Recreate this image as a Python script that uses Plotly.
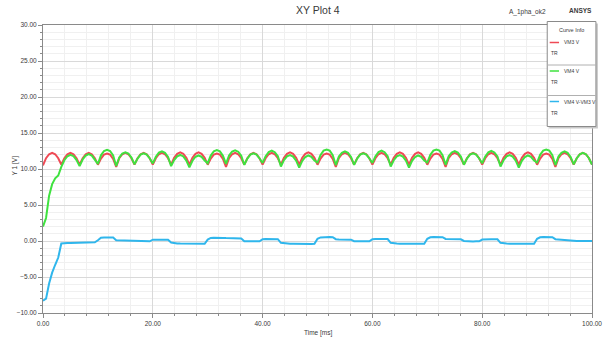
import plotly.graph_objects as go

# sample grid: 180 steps over 0..100 ms (6 samples per 3.333 ms ripple cycle)
t_start = 0.0
t_step = 100.0 / 180

# VM3 V (red)
vm3 = [
    10.5, 11.5, 12.05, 12.25, 12.05, 11.5,
    10.6, 11.5, 12.05, 12.25, 12.05, 11.5,
    10.6, 11.5, 12.05, 12.25, 12.05, 11.5,
    10.6, 11.45, 12.0, 12.15, 12.0, 11.4,
    10.3, 11.5, 12.05, 12.25, 12.05, 11.5,
    10.6, 11.5, 12.05, 12.25, 12.05, 11.5,
    10.6, 11.5, 12.05, 12.25, 12.05, 11.5,
    10.6, 11.55, 12.1, 12.3, 12.1, 11.55,
    10.6, 11.55, 12.1, 12.3, 12.1, 11.55,
    10.6, 11.45, 12.0, 12.15, 12.0, 11.4,
    10.3, 11.5, 12.05, 12.25, 12.05, 11.5,
    10.6, 11.5, 12.05, 12.25, 12.05, 11.5,
    10.6, 11.5, 12.05, 12.25, 12.05, 11.5,
    10.6, 11.55, 12.1, 12.3, 12.1, 11.55,
    10.6, 11.55, 12.1, 12.3, 12.1, 11.55,
    10.6, 11.45, 12.0, 12.15, 12.0, 11.4,
    10.3, 11.5, 12.05, 12.25, 12.05, 11.5,
    10.6, 11.5, 12.05, 12.25, 12.05, 11.5,
    10.6, 11.5, 12.05, 12.25, 12.05, 11.5,
    10.6, 11.55, 12.1, 12.3, 12.1, 11.55,
    10.6, 11.55, 12.1, 12.3, 12.1, 11.55,
    10.6, 11.45, 12.0, 12.15, 12.0, 11.4,
    10.3, 11.5, 12.05, 12.25, 12.05, 11.5,
    10.6, 11.5, 12.05, 12.25, 12.05, 11.5,
    10.6, 11.5, 12.05, 12.25, 12.05, 11.5,
    10.6, 11.55, 12.1, 12.3, 12.1, 11.55,
    10.6, 11.55, 12.1, 12.3, 12.1, 11.55,
    10.6, 11.45, 12.0, 12.15, 12.0, 11.4,
    10.3, 11.5, 12.05, 12.25, 12.05, 11.5,
    10.6, 11.5, 12.05, 12.25, 12.05, 11.5,
    10.6,
]

# VM4 V (green)
vm4 = [
    2.0, 3.2, 6.3, 7.9, 8.7, 9.1,
    10.3, 11.22, 11.77, 11.98, 11.78, 11.24,
    10.4, 11.32, 11.87, 12.08, 11.87, 11.33,
    10.7, 11.9, 12.5, 12.67, 12.5, 11.88,
    10.42, 11.6, 12.15, 12.33, 12.15, 11.58,
    10.65, 11.45, 12.0, 12.19, 12.0, 11.46,
    10.78, 11.7, 12.27, 12.45, 12.24, 11.68,
    10.4, 11.25, 11.77, 11.95, 11.74, 11.17,
    10.22, 11.15, 11.7, 11.88, 11.7, 11.17,
    10.8, 11.87, 12.45, 12.62, 12.45, 11.83,
    10.7, 11.88, 12.41, 12.6, 12.4, 11.84,
    10.58, 11.45, 11.99, 12.19, 12.0, 11.46,
    10.85, 11.78, 12.35, 12.55, 12.33, 11.76,
    10.35, 11.23, 11.75, 11.93, 11.72, 11.15,
    10.18, 11.12, 11.67, 11.88, 11.7, 11.17,
    10.9, 11.95, 12.55, 12.71, 12.55, 11.93,
    10.55, 11.72, 12.25, 12.45, 12.24, 11.68,
    10.58, 11.45, 11.99, 12.19, 12.0, 11.46,
    10.85, 11.78, 12.35, 12.55, 12.33, 11.77,
    10.35, 11.22, 11.75, 11.93, 11.72, 11.15,
    10.18, 11.13, 11.67, 11.88, 11.7, 11.17,
    10.9, 11.97, 12.55, 12.71, 12.55, 11.93,
    10.58, 11.76, 12.3, 12.49, 12.29, 11.73,
    10.6, 11.45, 11.99, 12.19, 12.0, 11.46,
    10.8, 11.75, 12.31, 12.51, 12.3, 11.74,
    10.35, 11.22, 11.75, 11.93, 11.72, 11.15,
    10.18, 11.13, 11.67, 11.88, 11.7, 11.17,
    10.9, 11.97, 12.55, 12.71, 12.55, 11.93,
    10.55, 11.72, 12.25, 12.45, 12.24, 11.68,
    10.65, 11.5, 12.03, 12.23, 12.05, 11.5,
    10.6,
]

# VM4 V-VM3 V (blue)
diff = [
    -8.3, -8.0, -5.9, -4.4, -3.3, -2.3,
    -0.35, -0.28, -0.28, -0.27, -0.27, -0.26,
    -0.2, -0.18, -0.18, -0.17, -0.18, -0.17,
    0.1, 0.45, 0.5, 0.52, 0.5, 0.48,
    0.12, 0.1, 0.1, 0.08, 0.1, 0.08,
    0.05, -0.05, -0.05, -0.06, -0.05, -0.04,
    0.18, 0.2, 0.22, 0.2, 0.19, 0.18,
    -0.2, -0.3, -0.33, -0.35, -0.36, -0.38,
    -0.38, -0.4, -0.4, -0.42, -0.4, -0.38,
    0.2, 0.42, 0.45, 0.47, 0.45, 0.43,
    0.4, 0.38, 0.36, 0.35, 0.35, 0.34,
    -0.02, -0.05, -0.06, -0.06, -0.05, -0.04,
    0.25, 0.28, 0.3, 0.3, 0.28, 0.26,
    -0.25, -0.32, -0.35, -0.37, -0.38, -0.4,
    -0.42, -0.43, -0.43, -0.42, -0.4, -0.38,
    0.3, 0.5, 0.55, 0.56, 0.55, 0.53,
    0.25, 0.22, 0.2, 0.2, 0.19, 0.18,
    -0.02, -0.05, -0.06, -0.06, -0.05, -0.04,
    0.25, 0.28, 0.3, 0.3, 0.28, 0.27,
    -0.25, -0.33, -0.35, -0.37, -0.38, -0.4,
    -0.42, -0.42, -0.43, -0.42, -0.4, -0.38,
    0.3, 0.52, 0.55, 0.56, 0.55, 0.53,
    0.28, 0.26, 0.25, 0.24, 0.24, 0.23,
    0.0, -0.05, -0.06, -0.06, -0.05, -0.04,
    0.2, 0.25, 0.26, 0.26, 0.25, 0.24,
    -0.25, -0.33, -0.35, -0.37, -0.38, -0.4,
    -0.42, -0.42, -0.43, -0.42, -0.4, -0.38,
    0.3, 0.52, 0.55, 0.56, 0.55, 0.53,
    0.25, 0.22, 0.2, 0.2, 0.19, 0.18,
    0.05, 0.0, -0.02, -0.02, 0.0, 0.0,
    0.0,
]

names = ["VM3 V", "VM4 V", "VM4 V-VM3 V"]
colors = ["#ef4a55", "#3fe23f", "#2fb6ec"]

FONT = "Liberation Sans, Arial, sans-serif"
TXT = "#3a3a3a"

fig = go.Figure()
for ys, nm, c in zip([vm3, vm4, diff], names, colors):
    fig.add_trace(go.Scatter(x0=t_start, dx=t_step, y=ys, name=nm, mode="lines",
                             line=dict(color=c, width=2), showlegend=False,
                             hoverinfo="skip"))

axis_common = dict(
    showline=True, linecolor="#8a8a8a", linewidth=1, mirror=True,
    ticks="outside", ticklen=4, tickcolor="#8a8a8a", tickwidth=1,
    showgrid=True, gridcolor="#d9d9d9", gridwidth=1,
    zeroline=False, tickformat=".2f",
    tickfont=dict(family=FONT, size=6.5, color=TXT),
)

fig.update_xaxes(range=[0, 100], dtick=20, tick0=0,
                 minor=dict(dtick=4, ticks="outside", ticklen=2, tickcolor="#8a8a8a",
                            showgrid=True, gridcolor="#f0f0f0"),
                 **axis_common)
fig.update_yaxes(range=[-10, 30], dtick=5, tick0=0,
                 minor=dict(dtick=1, ticks="outside", ticklen=2, tickcolor="#8a8a8a",
                            showgrid=True, gridcolor="#f0f0f0"),
                 **axis_common)

# geometry helpers (pixel -> paper), plot area x 43..601, y 25..313
L, R, T, B = 43, 601, 25, 313
def px(x):
    return (x - L) / (R - L)
def py(y):
    return (B - y) / (B - T)

def label(text, x, y, size, xanchor="center", angle=0):
    return dict(text=text, x=px(x), y=py(y), xref="paper", yref="paper",
                xanchor=xanchor, yanchor="middle", showarrow=False, textangle=angle,
                font=dict(family=FONT, size=size, color=TXT))

ann = [
    label("XY Plot 4", 322, 10, 10.5),
    label("A_1pha_ok2", 535, 12, 6.5),
    label("<b>ANSYS</b>", 589, 11, 6.5),
    label("Y 1 [V]", 15, 165, 6.5, angle=-90),
    label("Time [ms]", 322, 333, 6.5),
]

# legend box ("Curve Info")
shapes = []
bx0, bx1, by0, by1 = 555.5, 605, 21.5, 126.5
shapes.append(dict(type="rect", xref="paper", yref="paper",
                   x0=px(bx0 + 2), x1=px(bx1 + 2), y0=py(by1 + 2), y1=py(by0 + 2),
                   fillcolor="#c8c8c8", line=dict(width=0), layer="above"))
shapes.append(dict(type="rect", xref="paper", yref="paper",
                   x0=px(bx0), x1=px(bx1), y0=py(by1), y1=py(by0),
                   fillcolor="white", line=dict(color="#8a8a8a", width=1), layer="above"))
for sy in (65, 95.5):
    shapes.append(dict(type="line", xref="paper", yref="paper",
                       x0=px(bx0), x1=px(bx1), y0=py(sy), y1=py(sy),
                       line=dict(color="#b0b0b0", width=1), layer="above"))
ann.append(label("Curve Info", 580, 29.5, 5.5))
entry_y = [42.5, 71, 101.5]
tr_y = [52.5, 81.5, 112.5]
for nm, c, ey, ty in zip(names, colors, entry_y, tr_y):
    shapes.append(dict(type="line", xref="paper", yref="paper",
                       x0=px(558), x1=px(567.5), y0=py(ey), y1=py(ey),
                       line=dict(color=c, width=1.5), layer="above"))
    ann.append(label(nm, 570, ey, 5, xanchor="left"))
    ann.append(label("TR", 557, ty, 5, xanchor="left"))

fig.update_layout(
    width=614, height=342,
    margin=dict(l=L, r=614 - R, t=T, b=342 - B, pad=0),
    paper_bgcolor="white", plot_bgcolor="white",
    annotations=ann, shapes=shapes, showlegend=False, hovermode=False,
)

fig.write_html("out.html", config={"displayModeBar": False, "staticPlot": True},
               post_script="document.body.style.margin='0';document.body.style.overflow='hidden';")
